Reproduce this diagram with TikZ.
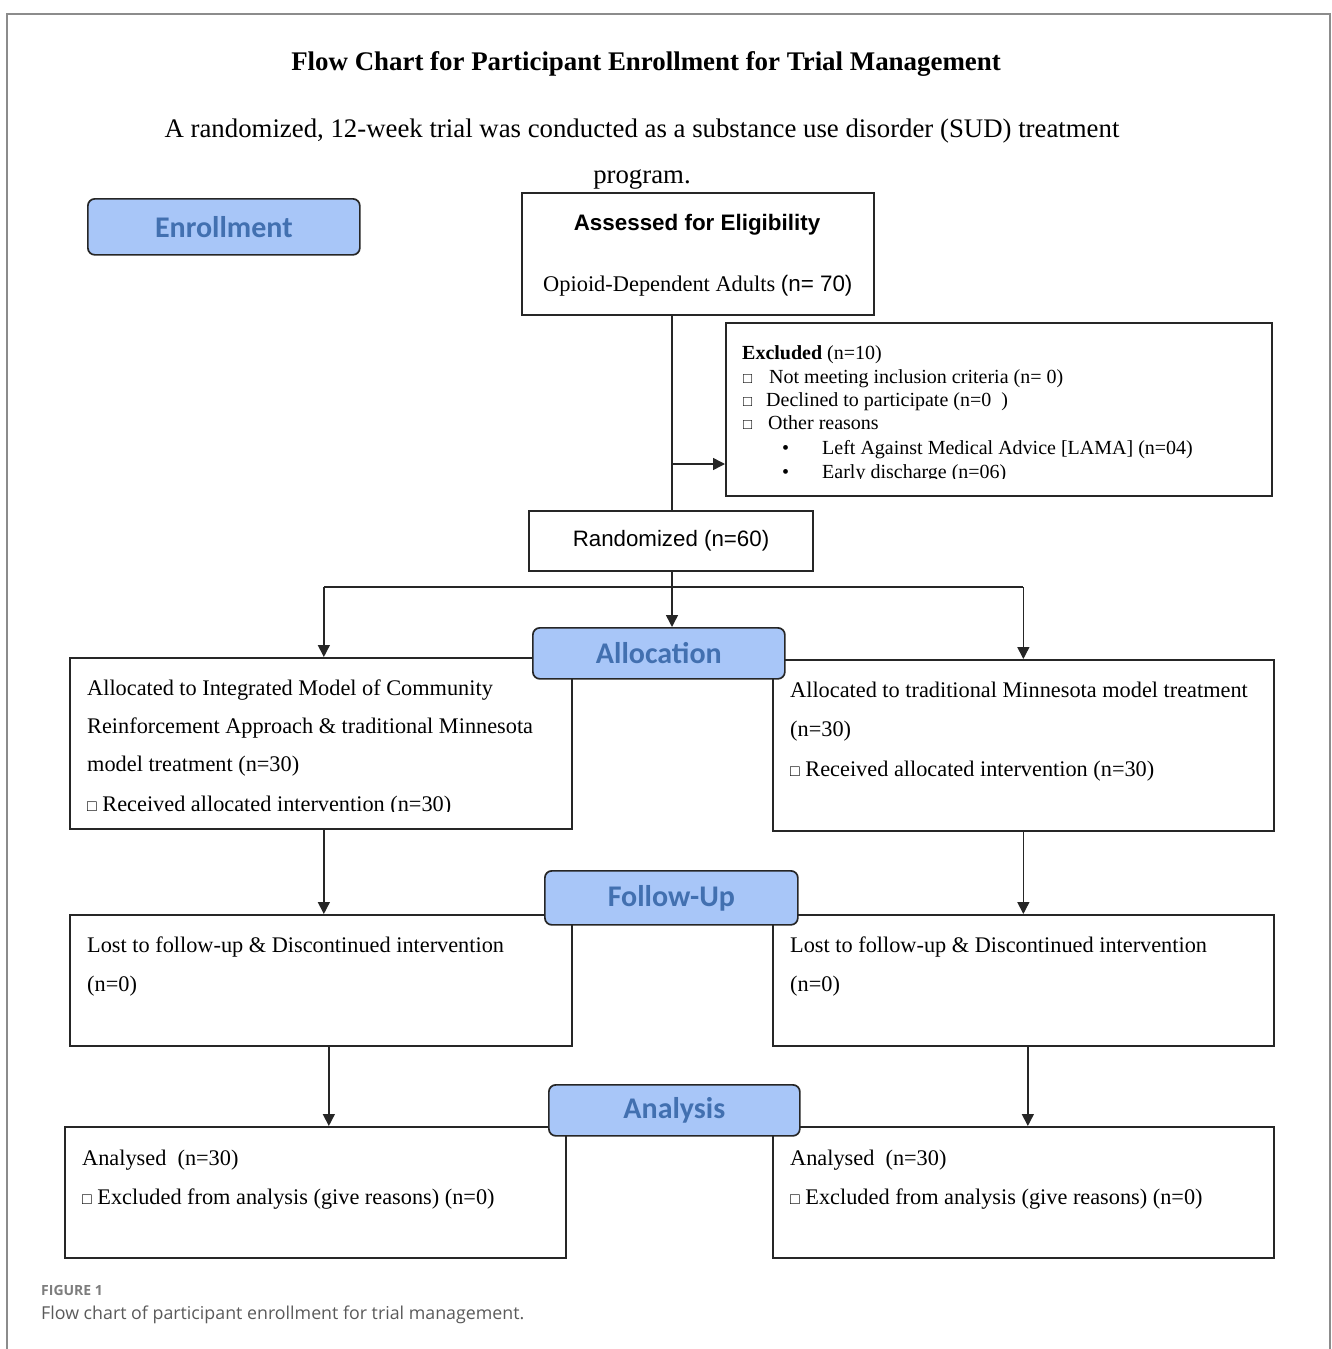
\documentclass[tikz,border=0pt]{standalone}
\usepackage{fontspec}
\setmainfont{Liberation Serif}
\newfontfamily\arialf{Liberation Sans}
\newfontfamily\calibf{Carlito}
\newfontfamily\opensf{Open Sans}
\usetikzlibrary{arrows.meta}
\definecolor{lblfill}{RGB}{168,198,248}
\definecolor{lbltext}{RGB}{66,112,176}
\definecolor{framegray}{RGB}{140,140,140}
\definecolor{capgray}{RGB}{90,90,90}
\definecolor{figgray}{RGB}{125,125,125}
\tikzset{
  box/.style={draw=black!85, line width=1.7pt, inner sep=0pt, anchor=north west},
  lbl/.style={draw=black!85, line width=1.7pt, fill=lblfill, rounded corners=7pt, inner sep=0pt, anchor=north west,
    font=\calibf\bfseries\fontsize{30}{31}\selectfont, text=lbltext},
  txt/.style={inner sep=0pt, anchor=base west, font=\fontsize{22.3}{26}\selectfont},
  etxt/.style={inner sep=0pt, anchor=base west, font=\fontsize{20}{23}\selectfont},
  ln/.style={draw=black!85, line width=1.5pt},
  arr/.style={ln, -{Triangle[length=12pt,width=12pt]}},
}
\begin{document}
\begin{tikzpicture}[x=1pt,y=-1pt]
\useasboundingbox (0,0) rectangle (1331,1349);
% outer frame
\draw[framegray, line width=1.3pt] (7,1349) -- (7,14) -- (1330,14) -- (1330,1349);
% title
\node[inner sep=0pt, anchor=base, font=\bfseries\fontsize{26.9}{30}\selectfont] (title) at (646,70) {Flow Chart for Participant Enrollment for Trial Management};
\node[inner sep=0pt, anchor=base, font=\fontsize{26.8}{30}\selectfont] (sub1) at (642,137) {A randomized, 12-week trial was conducted as a substance use disorder (SUD) treatment};
\node[inner sep=0pt, anchor=base, font=\fontsize{26.8}{30}\selectfont] (sub2) at (642,183) {program.};

% boxes
\node[box, minimum width=352pt, minimum height=122pt] (asmt) at (521,192) {};
\node[box, minimum width=546pt, minimum height=173pt] (excl) at (725,322) {};
\node[box, minimum width=284pt, minimum height=60pt, font=\arialf\fontsize{22.3}{26}\selectfont, anchor=center] (rnd) at (671,541) {\raisebox{-1pt}{Randomized (n=60)}};
\node[box, minimum width=502pt, minimum height=171pt] (allocL) at (69,657) {};
\node[box, minimum width=501pt, minimum height=171pt] (allocR) at (772,659) {};
\node[box, minimum width=502pt, minimum height=131pt] (folL) at (69,914) {};
\node[box, minimum width=501pt, minimum height=131pt] (folR) at (772,914) {};
\node[box, minimum width=501pt, minimum height=131pt] (anaL) at (64,1126) {};
\node[box, minimum width=501pt, minimum height=131pt] (anaR) at (772,1126) {};

% assessed text
\node[inner sep=0pt, anchor=base, font=\arialf\bfseries\fontsize{22.4}{26}\selectfont] (asmtA) at (697,230) {Assessed for Eligibility};
\node[inner sep=0pt, anchor=base west, font=\fontsize{22.4}{26}\selectfont] (asmtB) at (543,291) {Opioid-Dependent Adults {\arialf(n= 70)}};

% excluded text
\begin{scope}
\clip (725,322) rectangle (1271,478);
\node[etxt] (ex1) at (742,359) {\textbf{Excluded} (n=10)};
\node[etxt] (ex2b) at (743,383) {\fontsize{15}{16}\selectfont □};
\node[etxt] (ex2) at (769,383) {Not meeting inclusion criteria (n= 0)};
\node[etxt] (ex3b) at (743,406) {\fontsize{15}{16}\selectfont □};
\node[etxt] (ex3) at (766,406) {Declined to participate (n=0~~)};
\node[etxt] (ex4b) at (743,429) {\fontsize{15}{16}\selectfont □};
\node[etxt] (ex4) at (768,429) {Other reasons};
\node[etxt] (ex5b) at (782,454) {•};
\node[etxt] (ex5) at (822,454) {Left Against Medical Advice [LAMA] (n=04)};
\node[etxt] (ex6b) at (782,478) {•};
\node[etxt] (ex6) at (822,478) {Early discharge (n=06)};
\end{scope}

% allocated left text
\begin{scope}
\clip (69,657) rectangle (571,811);
\node[txt] (al1) at (87,695) {Allocated to Integrated Model of Community};
\node[txt] (al2) at (87,733) {Reinforcement Approach \& traditional Minnesota};
\node[txt] (al3) at (87,771) {model treatment (n=30)};
\node[txt] (al4) at (87,811) {{\fontsize{16}{17}\selectfont □} Received allocated intervention (n=30)};
\end{scope}
% allocated right text
\node[txt] (ar1) at (790,697) {Allocated to traditional Minnesota model treatment};
\node[txt] (ar2) at (790,736) {(n=30)};
\node[txt] (ar3) at (790,776) {{\fontsize{16}{17}\selectfont □} Received allocated intervention (n=30)};
% follow-up text
\node[txt] (fl1) at (87,952) {Lost to follow-up \& Discontinued intervention};
\node[txt] (fl2) at (87,991) {(n=0)};
\node[txt] (fr1) at (790,952) {Lost to follow-up \& Discontinued intervention};
\node[txt] (fr2) at (790,991) {(n=0)};
% analysis text
\node[txt] (nl1) at (82,1165) {Analysed~ (n=30)};
\node[txt] (nl2) at (82,1204) {{\fontsize{16}{17}\selectfont □} Excluded from analysis (give reasons) (n=0)};
\node[txt] (nr1) at (790,1165) {Analysed~ (n=30)};
\node[txt] (nr2) at (790,1204) {{\fontsize{16}{17}\selectfont □} Excluded from analysis (give reasons) (n=0)};

% connectors
\coordinate (brk) at ([xshift=1pt]rnd.north |- 0,464);
\coordinate (hl) at (allocL.north |- 0,587);
\coordinate (hr) at (allocR.north |- 0,587);
\draw[ln] ([xshift=1pt]rnd.north |- asmt.south) -- ([xshift=1pt]rnd.north);
\draw[arr] (brk) -- (excl.west |- brk);
\draw[ln] ([xshift=3pt]hl) -- (hr);
\draw[arr] ([xshift=3pt]hl) -- ([xshift=3pt]allocL.north);
\draw[arr] (hr) -- (allocR.north);
\draw[arr] ([xshift=3pt]allocL.south) -- ([xshift=3pt]allocL.south |- folL.north);
\draw[arr] (allocR.south) -- (allocR.south |- folR.north);
\draw[arr] ([xshift=8pt]folL.south) -- ([xshift=8pt]folL.south |- anaL.north);
\draw[arr] ([xshift=4.5pt]folR.south) -- ([xshift=4.5pt]folR.south |- anaR.north);

% labels
\node[lbl, minimum width=272pt, minimum height=56pt] (enr) at (87,198) {Enrollment};
\node[lbl, minimum width=252pt, minimum height=51pt] (alc) at (532,627) {Allocation};
\node[lbl, minimum width=253pt, minimum height=54pt] (fu) at (544,870) {Follow-Up};
\node[lbl, minimum width=251pt, minimum height=51pt] (an) at (548,1084) {Analysis};
\draw[arr] ([xshift=1pt]rnd.south) -- ([xshift=1pt]rnd.south |- alc.north);

% caption
\node[inner sep=0pt, anchor=base west, font=\opensf\bfseries\fontsize{14}{16}\selectfont, text=figgray] (figno) at (41,1295) {FIGURE 1};
\node[inner sep=0pt, anchor=base west, font=\opensf\fontsize{17.8}{20}\selectfont, text=capgray] (cap) at (41,1319) {Flow chart of participant enrollment for trial management.};
\end{tikzpicture}
\end{document}
